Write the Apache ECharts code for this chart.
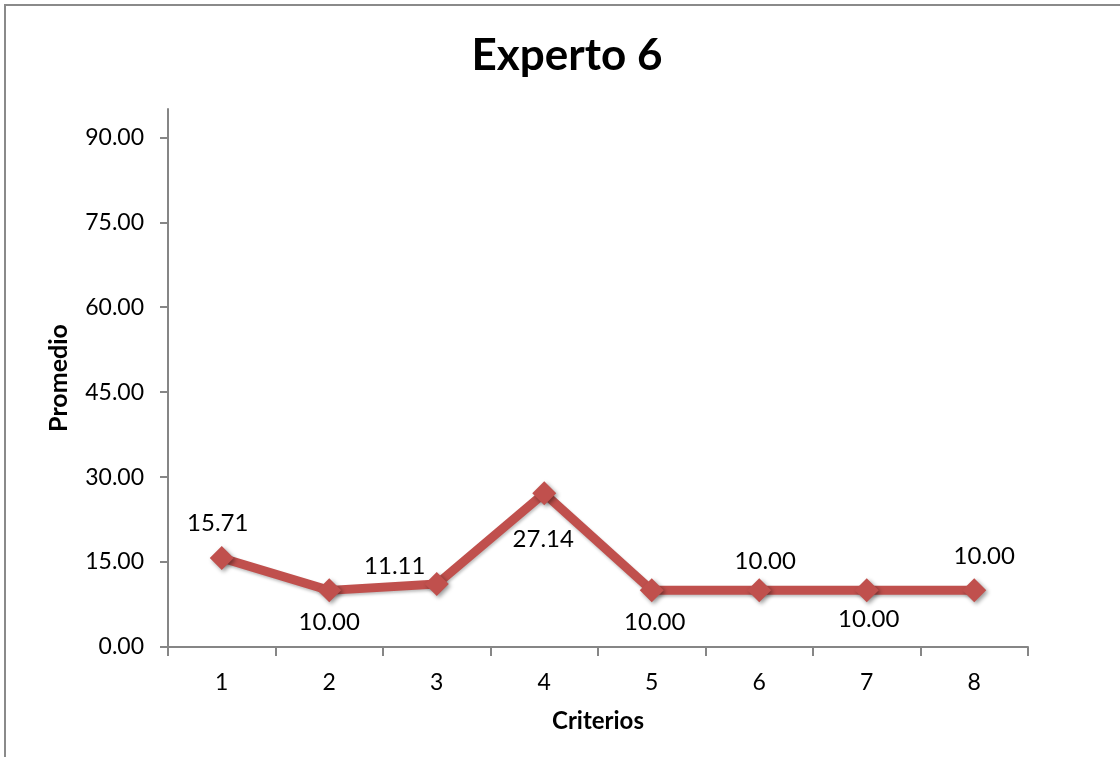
<!DOCTYPE html>
<html>
<head>
<meta charset="utf-8">
<script src="https://cdn.jsdelivr.net/npm/echarts@6/dist/echarts.min.js"></script>
<style>
  html, body { margin: 0; padding: 0; background: #fff; }
  #chart { width: 1120px; height: 757px; }
</style>
</head>
<body>
<div id="chart"></div>
<script>
// Average score per criterion given by expert 6
const categories = ['1', '2', '3', '4', '5', '6', '7', '8'];
const promedio = [15.71, 10.00, 11.11, 27.14, 10.00, 10.00, 10.00, 10.00];
const yTicks = [0, 15, 30, 45, 60, 75, 90];

// Where each value label sits relative to its marker (dx, dy in px)
const labelPlacement = [
  [-4, -35], [0, 32], [-42, -18], [-1, 46],
  [3, 32], [6, -29], [2, 29], [10, -34]
];

const FONT = 'Lato, "Open Sans", sans-serif';
const AXIS_GRAY = '#868686';
const RED = '#C0504D';

const chart = echarts.init(document.getElementById('chart'), null, { renderer: 'canvas' });

const seriesData = promedio.map((v, i) => ({
  value: v,
  label: { offset: labelPlacement[i] }
}));

chart.setOption({
  backgroundColor: '#ffffff',
  animation: false,
  graphic: [{
    type: 'rect',
    shape: { x: 5, y: 5, width: 1300, height: 900 },
    style: { fill: 'none', stroke: '#8a8a8a', lineWidth: 2 },
    silent: true
  }],
  title: {
    text: 'Experto 6',
    left: 562,
    textAlign: 'center',
    top: 29,
    textStyle: { fontFamily: FONT, fontWeight: 'bold', fontSize: 44, color: '#000' }
  },
  grid: { left: 168, right: 92, top: 109, bottom: 110, containLabel: false },
  xAxis: {
    type: 'category',
    data: categories,
    boundaryGap: true,
    name: 'Criterios',
    nameLocation: 'middle',
    nameGap: 62,
    nameTextStyle: { fontFamily: FONT, fontWeight: 'bold', fontSize: 24, color: '#000' },
    axisLine: { lineStyle: { color: AXIS_GRAY, width: 2 } },
    axisTick: { show: true, alignWithLabel: false, length: 9, lineStyle: { color: AXIS_GRAY, width: 2 } },
    axisLabel: { margin: 24, fontFamily: FONT, fontSize: 23, color: '#000' },
    splitLine: { show: false }
  },
  yAxis: {
    type: 'value',
    min: 0,
    max: 95,
    interval: 15,
    name: 'Promedio',
    nameLocation: 'middle',
    nameGap: 97,
    nameRotate: 90,
    nameTextStyle: { fontFamily: FONT, fontWeight: 'bold', fontSize: 25, color: '#000' },
    axisLine: { show: true, lineStyle: { color: AXIS_GRAY, width: 2 } },
    axisTick: { show: true, length: 8, lineStyle: { color: AXIS_GRAY, width: 2 }, customValues: yTicks },
    axisLabel: {
      margin: 24, fontFamily: FONT, fontSize: 23, color: '#000',
      customValues: yTicks,
      formatter: v => v.toFixed(2)
    },
    splitLine: { show: false }
  },
  series: [{
    type: 'line',
    data: seriesData,
    symbol: 'diamond',
    symbolSize: 24,
    lineStyle: {
      color: RED, width: 9,
      shadowColor: 'rgba(0,0,0,0.25)', shadowBlur: 3, shadowOffsetX: 1, shadowOffsetY: 2
    },
    itemStyle: {
      color: RED,
      shadowColor: 'rgba(0,0,0,0.4)', shadowBlur: 4, shadowOffsetX: 2, shadowOffsetY: 2
    },
    label: {
      show: true,
      position: 'inside',
      fontFamily: FONT,
      fontSize: 24,
      color: '#000',
      formatter: p => p.value.toFixed(2)
    },
    emphasis: { disabled: true }
  }]
});
</script>
</body>
</html>
